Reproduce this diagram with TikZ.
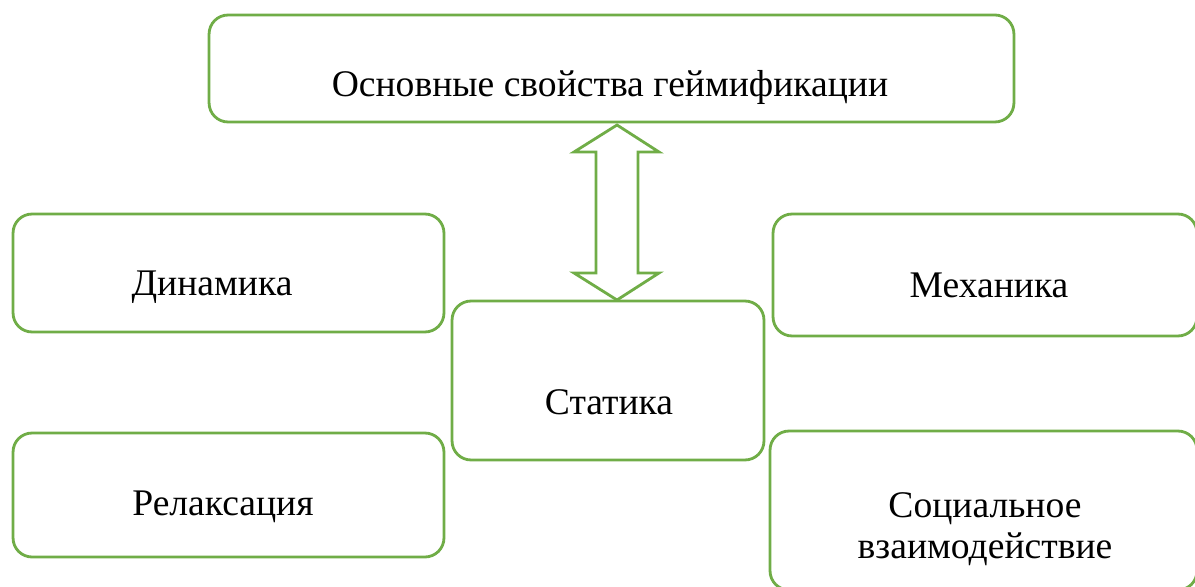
\documentclass[tikz,border=0pt]{standalone}
\usepackage{fontspec}
\setmainfont{Liberation Serif}
\usepackage{tikz}
\definecolor{boxgreen}{HTML}{70AD47}
\tikzset{
	box/.style = {draw=boxgreen, line width=1.6pt, rounded corners=0.38cm, fill=white, inner sep=0pt},
	txt/.style = {font=\fontsize{21.4}{23.3}\selectfont, align=center, inner sep=0pt, anchor=base},
	blockarrow/.style = {draw=boxgreen, line width=1.6pt, fill=white, line join=miter}
}

\begin{document}
\begin{tikzpicture}[x=0.02cm,y=-0.02cm]
	\useasboundingbox (0,0) rectangle (1195,587);
	
	% ------------------- Boxes ------------------- %
	\node[box, minimum width=16.1cm, minimum height=2.14cm] (props) at (611.5,68.5) {};
	\node[box, minimum width=8.62cm, minimum height=2.36cm] (dyn) at (228.5,273) {};
	\node[box, minimum width=8.48cm, minimum height=2.44cm] (mech) at (985,275) {};
	\node[box, minimum width=8.62cm, minimum height=2.48cm] (relax) at (228.5,495) {};
	\node[box, minimum width=8.54cm, minimum height=3.18cm] (social) at (983.5,510.5) {};
	\node[box, minimum width=6.24cm, minimum height=3.18cm] (stat) at (608,380.5) {};
	
	% ------------------- Texts ------------------- %
	\node[txt] (propstext) at (610,97) {Основные свойства геймификации};
	\node[txt] (dyntext) at (212,296) {Динамика};
	\node[txt] (mechtext) at (989,297) {Механика};
	\node[txt] (stattext) at (609,414) {Статика};
	\node[txt] (relaxtext) at (223,515) {Релаксация};
	\node[txt] (socialtext) at (985,558) {Социальное\\взаимодействие};
	
	% ------------------- Double arrow ------------------- %
	\draw[blockarrow] (617,125) -- (574,152) -- (596,152) -- (596,273) -- (574,273)
		-- (617,300) -- (659,273) -- (638,273) -- (638,152) -- (659,152) -- cycle;
\end{tikzpicture}
\end{document}
